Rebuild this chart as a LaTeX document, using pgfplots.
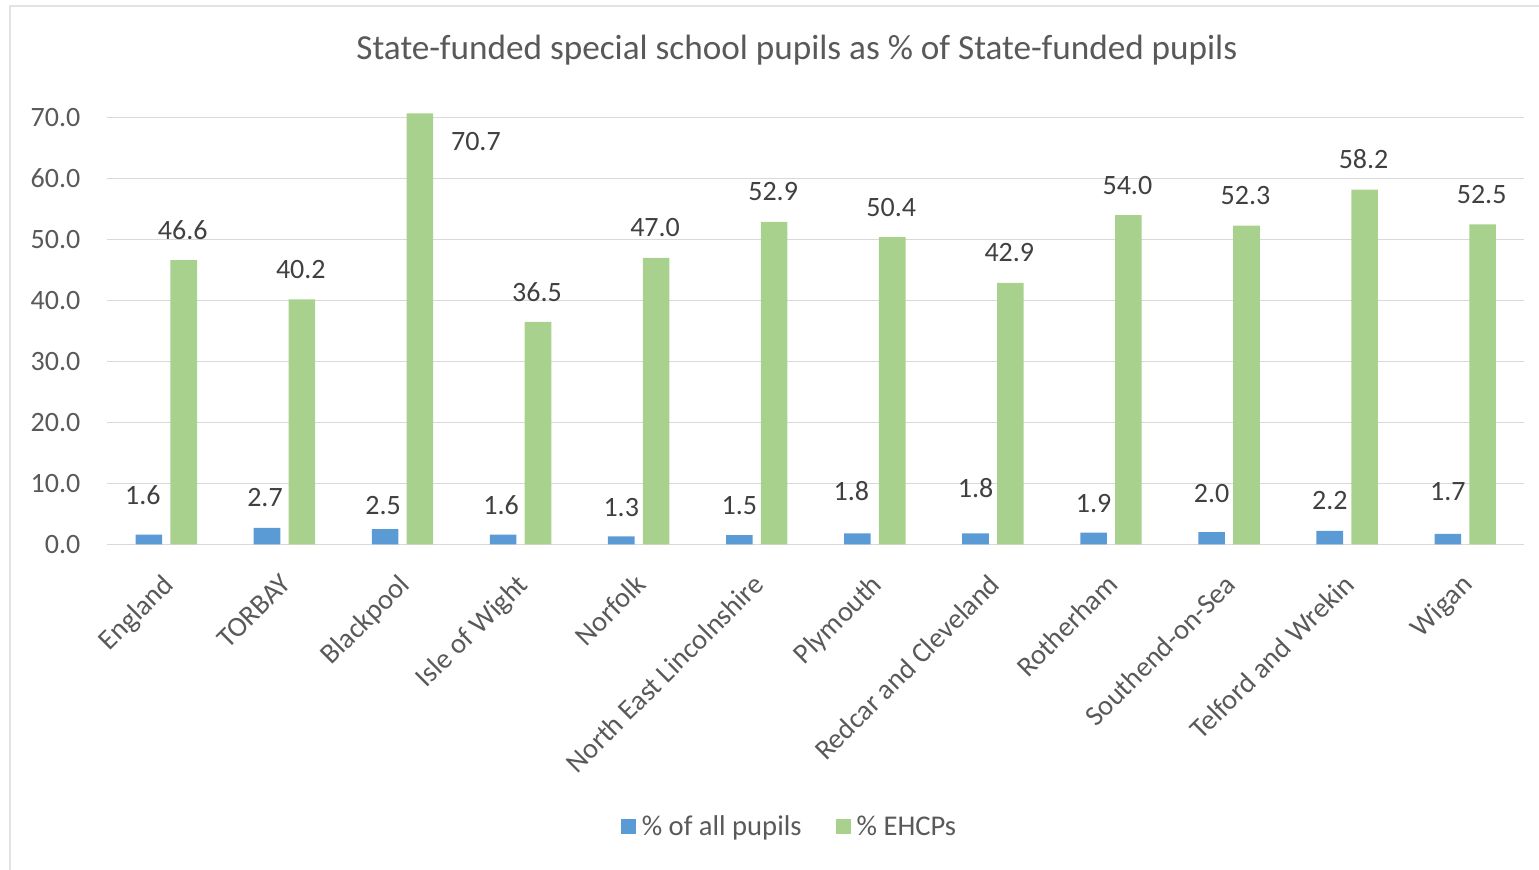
\documentclass[border=0pt]{standalone}
\usepackage{fontspec}
\setmainfont{Carlito}
\usepackage{pgfplots}
\pgfplotsset{compat=1.18}
\usepackage{pgfplotstable}
\definecolor{txt}{HTML}{595959}
\definecolor{lbl}{HTML}{404040}
\definecolor{gridc}{HTML}{D9D9D9}
\definecolor{frame}{HTML}{E3E3E3}
\definecolor{blue1}{HTML}{5B9BD5}
\definecolor{green1}{HTML}{A9D18E}
\pgfplotsset{/pgf/number format/assume math mode=true}

\pgfplotstableread{
x y dx dy
0 1.6 -3 19.6
1 2.7 -1 15.2
2 2.5 -1 11.9
3 1.6 -1 14.6
4 1.3 0 14.5
5 1.5 0 15.0
6 1.8 -3 21.0
7 1.8 0 22.5
8 1.9 0 14.7
9 2.0 0 19.4
10 2.2 0 15.3
11 1.7 0 21.3
}\allpupils

\pgfplotstableread{
x y dx dy
0 46.6 -0.5 15
1 40.2 -0.5 15
2 70.7 28 -13.9
3 36.5 -0.5 15
4 47.0 -0.5 15
5 52.9 -0.5 15
6 50.4 -0.5 15
7 42.9 -0.5 15
8 54.0 -0.5 15
9 52.3 -0.5 15
10 58.2 -0.5 15
11 52.5 -0.5 15
}\ehcp

\begin{document}
\begin{tikzpicture}
\useasboundingbox (0,0) rectangle (769.5pt,434.5pt);
\draw[color=frame, line width=1pt] (5pt,-2pt) -- (5pt,431.5pt) -- (775pt,431.5pt);
\begin{axis}[
  at={(53.65pt,162.35pt)}, anchor=south west,
  scale only axis, width=708.5pt, height=213.35pt,
  xmin=-0.5, xmax=11.5, ymin=0, ymax=70, clip=false,
  enlargelimits=false,
  ybar=4.1pt, bar width=13.3pt,
  legend image code/.code={\fill[#1,draw=none] (0pt,-3.5pt) rectangle (7.5pt,4pt);},
  axis line style={draw=none}, tick style={draw=none},
  ymajorgrids, grid style={color=gridc, line width=0.75pt},
  ytick={0,10,...,70},
  yticklabel style={font=\fontsize{14}{16}\selectfont, text=txt, anchor=east, inner sep=0pt, xshift=-13.3pt,
    /pgf/number format/fixed, /pgf/number format/fixed zerofill, /pgf/number format/precision=1},
  xtick={0,...,11},
  xticklabels={England, TORBAY, Blackpool, Isle of Wight, Norfolk, North East Lincolnshire, Plymouth, Redcar and Cleveland, Rotherham, Southend-on-Sea, Telford and Wrekin, Wigan},
  xticklabel style={font=\fontsize{14.2}{16}\selectfont, text=txt, rotate=45, anchor=north east, inner sep=0pt, xshift=-8.7pt, yshift=-4.9pt},
  title={State-funded special school pupils as \% of State-funded pupils},
  title style={font=\fontsize{17.6}{20}\selectfont, text=txt, at={(0.4867,1.107)}, anchor=base},
  nodes near coords={\pgfmathprintnumber[fixed,fixed zerofill,precision=1]{\pgfplotspointmeta}},
  nodes near coords style={font=\fontsize{14}{16}\selectfont, text=lbl, anchor=center, inner sep=0pt, xshift=\dx pt, yshift=\dy pt},
  legend style={draw=none, fill=none, at={(0.4821,-0.6625)}, anchor=center, legend columns=2,
    font=\fontsize{14.3}{16}\selectfont, text=txt,
    /tikz/every odd column/.append style={column sep=1pt},
    /tikz/every even column/.append style={column sep=15pt}},
]
\addplot[fill=blue1, draw=none,
  visualization depends on={\thisrow{dx}\as\dx},
  visualization depends on={\thisrow{dy}\as\dy}] table[x=x,y=y] {\allpupils};
\addlegendentry{\% of all pupils}
\addplot[fill=green1, draw=none,
  visualization depends on={\thisrow{dx}\as\dx},
  visualization depends on={\thisrow{dy}\as\dy}] table[x=x,y=y] {\ehcp};
\addlegendentry{\% EHCPs}
\end{axis}
\end{tikzpicture}
\end{document}
